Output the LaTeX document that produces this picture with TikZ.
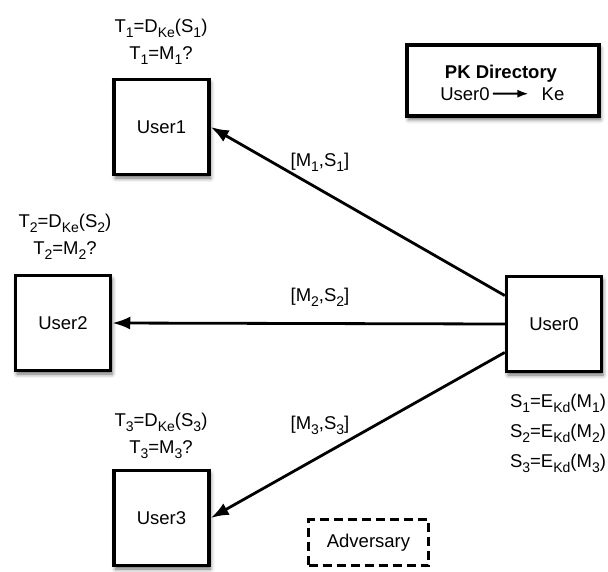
\documentclass[tikz,border=0pt]{standalone}
\usepackage{fontspec}
\setmainfont{Liberation Sans}
\usetikzlibrary{arrows.meta,shadows.blur,positioning}
\newcommand{\lowsub}[1]{\raisebox{-5pt}{\fontsize{14}{14}\selectfont #1}}

\begin{document}
\begin{tikzpicture}[x=1pt,y=-1pt,
    userbox/.style={draw,line width=3.5pt,fill=white,minimum size=95pt,inner sep=0,
        blur shadow={shadow xshift=1.5pt,shadow yshift=-3.5pt,shadow blur radius=4pt,shadow opacity=60}},
    txt/.style={font=\fontsize{18.5}{27}\selectfont,align=center,inner sep=0},
    msg/.style={draw,line width=2.8pt,-{Latex[length=18pt,width=13pt]}}]
    \useasboundingbox (0,0) rectangle (608,571);
    \foreach \n/\x/\y in {1/161.5/127,2/63/323,3/161.5/518} {
        \node[userbox,txt] (user\n) at (\x,\y) {User\n};
    }
    \node[userbox,txt] (user0) at (554,324) {User0};
    \node[userbox,minimum width=192pt,minimum height=71pt] (pk) at (503,80.5) {};
    \node[txt,anchor=base,font=\fontsize{18.5}{22}\selectfont\bfseries] (pktitle) at (501,78) {PK Directory};
    \node[txt,anchor=base,inner sep=3pt] (pkuser) at (465,100) {User0};
    \node[txt,anchor=base,inner sep=3pt] (pkkey) at (553,100) {Ke};
    \draw[line width=2pt,-{Latex[length=11pt,width=8pt]},shorten >=10pt] (pkuser) -- (pkkey);
    \node[draw,line width=3pt,dash pattern=on 9pt off 5pt,minimum width=120pt,minimum height=46pt,txt]
        (adversary) at (368.5,542.5) {Adversary};
    \node[txt] (check1) at (161,42) {T\lowsub{1}=D\lowsub{Ke}(S\lowsub{1})\\T\lowsub{1}=M\lowsub{1}?};
    \node[txt] (check2) at (65,237) {T\lowsub{2}=D\lowsub{Ke}(S\lowsub{2})\\T\lowsub{2}=M\lowsub{2}?};
    \node[txt] (check3) at (161,436) {T\lowsub{3}=D\lowsub{Ke}(S\lowsub{3})\\T\lowsub{3}=M\lowsub{3}?};
    \node[txt,font=\fontsize{18.5}{30}\selectfont] (sign) at (558,433)
        {S\lowsub{1}=E\lowsub{Kd}(M\lowsub{1})\\S\lowsub{2}=E\lowsub{Kd}(M\lowsub{2})\\S\lowsub{3}=E\lowsub{Kd}(M\lowsub{3})};
    \draw[msg] (user0.150) -- (user1.east);
    \draw[msg] (user0.west) -- (user2.east);
    \draw[msg] (user0.210) -- (user3.east);
    \node[txt] (msg1) at (320,162) {[M\lowsub{1},S\lowsub{1}]};
    \node[txt] (msg2) at (320,297) {[M\lowsub{2},S\lowsub{2}]};
    \node[txt] (msg3) at (320,425) {[M\lowsub{3},S\lowsub{3}]};
\end{tikzpicture}
\end{document}
